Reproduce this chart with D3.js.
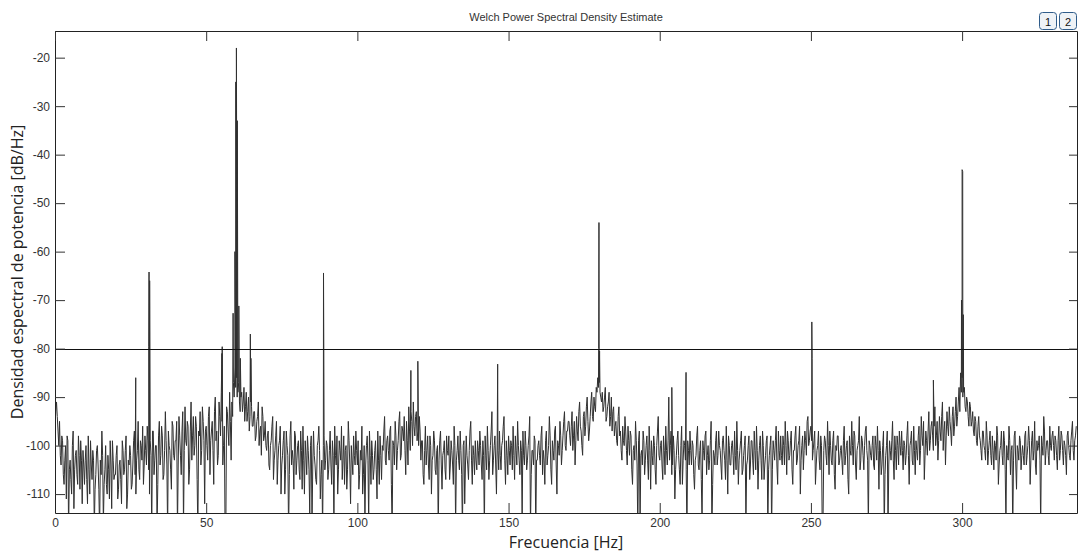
<!DOCTYPE html>
<html>
<head>
<meta charset="utf-8">
<script src="https://cdn.jsdelivr.net/npm/d3@7"></script>
<style>
  body { margin: 0; background: #fff; }
  .tick text { font-family: "Liberation Sans", Arial, sans-serif; font-size: 12px; fill: #333; }
  .axisText { font-family: "Open Sans", sans-serif; font-size: 16px; fill: #222; }
</style>
</head>
<body>
<div id="chart"></div>
<script>
// Welch PSD
var freqStep = 0.5;   // Hz between noise-floor samples
// noise floor at 0, 0.5, 1.0 ... Hz
var noiseDb = [
  -96,-91,-97,-95,-104,-99,-108,-100,-98,-118,-103,-110,-97,-105,-101,-108,-102,-99,-112,-104,
  -103,-107,-98,-110,-104,-101,-117,-106,-100,-109,-103,-97,-116,-105,-108,-102,-111,-104,-99,-107,
  -106,-100,-109,-103,-112,-101,-105,-98,-110,-104,-102,-108,-99,-106,-103,-95,-107,-100,-96,-104,
  -101,-96,-105,-99,-118,-97,-103,-100,-108,-95,-102,-98,-106,-93,-104,-97,-101,-109,-96,-103,
  -99,-118,-94,-102,-97,-117,-92,-100,-96,-105,-91,-98,-102,-94,-107,-97,-93,-101,-95,-112,
  -96,-103,-92,-99,-95,-108,-90,-97,-102,-94,-89,-104,-96,-118,-93,-100,-95,-91,-87,-84,
  -86,-89,-91,-90,-93,-88,-92,-95,-90,-94,-92,-96,-93,-98,-94,-100,-96,-92,-99,-95,
  -101,-97,-105,-99,-94,-103,-98,-108,-100,-96,-104,-99,-110,-97,-102,-106,-95,-101,-109,-98,
  -103,-99,-107,-101,-96,-110,-102,-98,-105,-100,-117,-97,-104,-108,-99,-101,-106,-118,-98,-103,
  -100,-105,-97,-108,-102,-96,-104,-110,-99,-103,-107,-98,-101,-109,-95,-104,-100,-106,-102,-97,
  -104,-109,-101,-96,-106,-116,-100,-103,-97,-108,-102,-105,-99,-111,-103,-98,-107,-101,-94,-104,
  -98,-103,-96,-118,-100,-95,-105,-99,-93,-102,-97,-94,-106,-99,-92,-101,-95,-91,-98,-93,
  -97,-94,-103,-99,-108,-96,-101,-104,-98,-110,-102,-99,-106,-100,-103,-97,-109,-101,-105,-98,
  -102,-107,-99,-104,-96,-117,-101,-103,-97,-106,-100,-112,-98,-104,-101,-95,-108,-102,-99,-105,
  -101,-97,-104,-99,-118,-102,-96,-107,-100,-93,-103,-98,-110,-101,-97,-105,-99,-94,-108,-102,
  -98,-104,-100,-96,-107,-101,-95,-103,-99,-116,-102,-97,-105,-100,-94,-106,-101,-98,-118,-103,
  -99,-104,-96,-101,-108,-97,-102,-94,-105,-99,-103,-96,-110,-100,-95,-104,-98,-93,-101,-97,
  -95,-100,-93,-98,-104,-94,-99,-91,-97,-102,-93,-96,-90,-99,-94,-89,-95,-92,-88,-86,
  -87,-90,-89,-92,-88,-94,-91,-96,-90,-93,-98,-95,-100,-92,-97,-103,-99,-94,-101,-96,
  -102,-98,-108,-100,-95,-104,-99,-117,-101,-97,-106,-100,-103,-96,-109,-102,-98,-105,-100,-94,
  -103,-99,-107,-101,-96,-104,-90,-100,-106,-98,-111,-102,-97,-105,-100,-108,-99,-103,-118,-101,
  -97,-104,-100,-109,-102,-96,-105,-99,-116,-101,-98,-106,-100,-103,-95,-108,-102,-99,-104,-97,
  -101,-107,-98,-103,-96,-110,-100,-104,-99,-106,-102,-95,-108,-101,-97,-105,-100,-117,-103,-98,
  -104,-99,-106,-101,-96,-109,-100,-103,-97,-107,-102,-98,-105,-100,-118,-99,-103,-96,-108,-101,
  -98,-104,-100,-95,-106,-99,-102,-97,-108,-101,-96,-103,-99,-110,-100,-105,-97,-102,-94,-99,
  -96,-103,-99,-108,-101,-97,-105,-100,-116,-98,-102,-95,-106,-100,-104,-97,-109,-101,-98,-103,
  -100,-106,-96,-102,-99,-110,-101,-95,-104,-98,-107,-100,-94,-103,-99,-105,-97,-101,-117,-100,
  -103,-98,-105,-100,-96,-109,-101,-104,-97,-106,-100,-118,-99,-103,-95,-107,-101,-98,-104,-100,
  -97,-105,-100,-102,-95,-108,-99,-103,-96,-106,-101,-98,-104,-94,-100,-107,-97,-102,-93,-99,
  -95,-101,-92,-98,-103,-94,-99,-91,-97,-104,-93,-98,-95,-100,-92,-96,-90,-94,-88,-85,
  -86,-89,-92,-90,-94,-91,-96,-93,-98,-95,-100,-94,-99,-103,-97,-101,-95,-104,-99,-102,
  -98,-105,-100,-96,-108,-101,-97,-104,-99,-116,-102,-96,-106,-100,-103,-97,-109,-101,-98,-105,
  -100,-104,-97,-102,-96,-108,-99,-103,-95,-106,-101,-98,-117,-100,-94,-104,-99,-102,-96,-101,
  -97,-103,-99,-105,-96,-101,-98,-104,-100,-106,-97,-102,-99,-95,-103,-98
];
// noise floor at 0.25, 0.75, 1.25 ... Hz
var noiseDbMid = [
  -93,-94,-100,-102,-98,-106,-103,-111,-99,-105,-107,-100,-113,-102,-106,-98,-109,-103,-101,-108,
  -100,-112,-105,-99,-107,-103,-109,-101,-104,-118,-106,-102,-108,-100,-110,-105,-99,-113,-103,-106,
  -102,-111,-104,-107,-99,-106,-101,-113,-103,-100,-109,-104,-97,-110,-101,-105,-99,-103,-108,-98,
  -104,-99,-110,-102,-97,-106,-100,-117,-98,-104,-96,-107,-101,-99,-118,-100,-105,-95,-102,-99,
  -95,-104,-98,-106,-93,-101,-99,-95,-108,-97,-103,-94,-100,-96,-118,-98,-104,-92,-99,-97,
  -100,-94,-106,-97,-101,-93,-99,-104,-91,-98,-95,-100,-118,-92,-97,-89,-103,-94,-90,-88,
  -90,-87,-93,-89,-91,-95,-89,-93,-97,-91,-96,-93,-99,-95,-91,-97,-102,-94,-98,-100,
  -98,-104,-100,-96,-107,-101,-95,-103,-99,-110,-102,-97,-105,-100,-118,-98,-104,-103,-97,-106,
  -100,-105,-97,-109,-103,-99,-106,-101,-114,-98,-104,-102,-107,-100,-96,-111,-103,-100,-105,-99,
  -107,-101,-104,-99,-117,-102,-98,-105,-101,-96,-103,-108,-100,-105,-99,-112,-103,-98,-104,-101,
  -99,-106,-103,-110,-100,-104,-98,-116,-102,-99,-107,-101,-105,-97,-108,-102,-100,-97,-103,-99,
  -101,-97,-108,-99,-104,-98,-101,-95,-103,-96,-99,-101,-95,-104,-97,-93,-100,-96,-94,-99,
  -100,-97,-99,-106,-101,-104,-98,-107,-100,-103,-97,-105,-101,-118,-99,-104,-102,-99,-107,-101,
  -98,-104,-101,-108,-100,-103,-98,-105,-101,-118,-99,-104,-102,-107,-97,-103,-100,-106,-103,-99,
  -104,-100,-107,-102,-98,-105,-101,-103,-97,-106,-100,-104,-99,-105,-102,-100,-96,-103,-99,-106,
  -101,-99,-105,-102,-98,-104,-100,-106,-101,-97,-104,-100,-103,-98,-117,-101,-104,-99,-103,-100,
  -102,-98,-106,-103,-99,-104,-100,-98,-108,-101,-97,-104,-99,-102,-98,-101,-95,-100,-97,-95,
  -98,-96,-101,-95,-99,-97,-93,-96,-100,-94,-98,-92,-95,-97,-91,-94,-90,-93,-89,-88,
  -89,-91,-93,-90,-95,-92,-89,-94,-97,-92,-96,-99,-94,-98,-101,-96,-100,-97,-104,-99,
  -97,-105,-101,-103,-99,-118,-97,-102,-104,-99,-103,-98,-107,-101,-99,-104,-100,-108,-97,-102,
  -100,-104,-98,-106,-101,-99,-103,-97,-104,-101,-105,-99,-102,-108,-96,-103,-100,-105,-99,-104,
  -101,-99,-106,-103,-98,-104,-101,-107,-99,-103,-97,-102,-105,-99,-118,-101,-104,-97,-102,-100,
  -104,-99,-101,-107,-103,-98,-104,-100,-102,-97,-105,-101,-103,-99,-106,-102,-98,-104,-100,-107,
  -99,-103,-97,-105,-101,-103,-98,-107,-100,-104,-99,-118,-102,-98,-105,-101,-99,-104,-97,-103,
  -102,-98,-104,-100,-97,-103,-99,-105,-101,-98,-104,-100,-96,-103,-98,-101,-99,-95,-100,-97,
  -99,-101,-97,-104,-100,-103,-98,-118,-101,-99,-104,-100,-97,-103,-99,-106,-100,-98,-104,-101,
  -103,-99,-104,-100,-107,-98,-102,-100,-97,-104,-101,-99,-105,-98,-102,-100,-96,-103,-99,-102,
  -100,-104,-98,-103,-101,-99,-106,-100,-118,-102,-97,-104,-101,-99,-103,-98,-105,-100,-97,-102,
  -101,-99,-104,-98,-102,-100,-97,-104,-101,-99,-103,-96,-101,-98,-95,-102,-99,-97,-101,-96,
  -98,-96,-100,-95,-99,-97,-94,-101,-95,-98,-96,-92,-97,-94,-98,-93,-96,-91,-93,-89,
  -90,-88,-93,-91,-96,-92,-95,-97,-94,-99,-96,-98,-101,-97,-100,-103,-98,-101,-97,-104,
  -101,-99,-103,-98,-104,-100,-102,-97,-105,-100,-103,-99,-101,-118,-98,-104,-100,-103,-99,-102,
  -102,-98,-104,-100,-99,-103,-97,-101,-104,-99,-100,-103,-98,-102,-97,-101,-99,-104,-100,-98,
  -100,-98,-102,-99,-103,-97,-101,-99,-102,-98,-100,-103,-97,-101,-99,-96
];

// narrow harmonic lines (Hz, dB/Hz)
var peakFreqs = [26.7, 31.0, 31.1, 31.3, 55.2, 55.3, 58.9, 59.5, 59.8, 60.0, 60.3, 60.8, 61.3,
  64.6, 64.8, 88.8, 88.9, 117.7, 120.0, 146.4, 179.8, 179.9, 180.1, 204.0, 208.7,
  250.3, 250.4, 290.5, 299.8, 300.0, 300.2, 300.4];
var peakDb = [-86, -79.5, -64.2, -66, -81, -79.6, -72.7, -60, -25, -18, -33, -71.2, -82,
  -77, -82, -64.4, -80, -84.5, -82.6, -83.2, -80, -54, -80.5, -88, -84.9,
  -74.5, -82, -86.5, -70, -43.1, -43.5, -73];

var xTicks = [0, 50, 100, 150, 200, 250, 300];
var yTicks = [-20, -30, -40, -50, -60, -70, -80, -90, -100, -110];
var refLevel = -80;

var svgWidth = 1078;
var svgHeight = 553;
var margin = { top: 31, right: 1, bottom: 40, left: 55 };
var width = svgWidth - margin.left - margin.right;
var height = svgHeight - margin.top - margin.bottom;

var svg = d3.select("#chart")
  .append("svg")
  .attr("width", svgWidth)
  .attr("height", svgHeight);

var chartGroup = svg.append("g")
  .attr("transform", `translate(${margin.left}, ${margin.top})`);

// build the series: both noise grids + peaks, sorted by frequency
var series = noiseDb.map((v, i) => ({ f: i * freqStep, db: v }));
noiseDbMid.forEach((v, i) => series.push({ f: i * freqStep + freqStep / 2, db: v }));
peakFreqs.forEach((f, i) => series.push({ f: f, db: peakDb[i] }));
series.sort((a, b) => a.f - b.f);

var xScale = d3.scaleLinear().domain([0, 338]).range([0, width]);
var yScale = d3.scaleLinear().domain([-113.9, -14.5]).range([height, 0]);

chartGroup.append("clipPath").attr("id", "clip")
  .append("rect").attr("width", width).attr("height", height);

var line = d3.line()
  .x(d => xScale(d.f))
  .y(d => yScale(d.db));

chartGroup.append("path")
  .datum(series)
  .attr("clip-path", "url(#clip)")
  .attr("fill", "none")
  .attr("stroke", "#303030")
  .attr("stroke-width", 1)
  .attr("d", line);

// reference line at -80
chartGroup.append("line")
  .attr("x1", 0).attr("x2", width)
  .attr("y1", Math.round(yScale(refLevel)) + 0.5)
  .attr("y2", Math.round(yScale(refLevel)) + 0.5)
  .attr("stroke", "#111");

// axes, matlab style: ticks inside on all four sides
var fmt = d => String(d);
var bottomAxis = d3.axisBottom(xScale).tickValues(xTicks).tickFormat(fmt).tickSizeInner(-10).tickSizeOuter(0).tickPadding(5);
var leftAxis = d3.axisLeft(yScale).tickValues(yTicks).tickFormat(fmt).tickSizeInner(-10).tickSizeOuter(0).tickPadding(5);
var topAxis = d3.axisTop(xScale).tickValues(xTicks).tickSizeInner(-10).tickSizeOuter(0).tickFormat("");
var rightAxis = d3.axisRight(yScale).tickValues(yTicks).tickSizeInner(-8).tickSizeOuter(0).tickFormat("");

chartGroup.append("g").attr("transform", `translate(0, ${height})`).call(bottomAxis);
chartGroup.append("g").call(leftAxis);
chartGroup.append("g").call(topAxis);
chartGroup.append("g").attr("transform", `translate(${width}, 0)`).call(rightAxis);

chartGroup.selectAll(".domain").attr("stroke", "#222");
chartGroup.selectAll(".tick line").attr("stroke", "#333");

// labels
svg.append("text")
  .attr("x", margin.left + width / 2)
  .attr("y", 21)
  .attr("text-anchor", "middle")
  .style("font-family", "Liberation Sans, Arial, sans-serif")
  .style("font-size", "11px")
  .style("fill", "#333")
  .text("Welch Power Spectral Density Estimate");

svg.append("text")
  .attr("class", "axisText")
  .attr("x", margin.left + width / 2)
  .attr("y", 548)
  .attr("text-anchor", "middle")
  .text("Frecuencia [Hz]");

svg.append("text")
  .attr("class", "axisText")
  .attr("transform", "rotate(-90)")
  .attr("x", -(margin.top + height / 2))
  .attr("y", 23)
  .attr("text-anchor", "middle")
  .text("Densidad espectral de potencia [dB/Hz]");

// little figure buttons top right
var buttons = ["1", "2"];
var btn = svg.selectAll(".btn").data(buttons).enter().append("g")
  .attr("transform", (d, i) => `translate(${1039.5 + i * 20}, 12.5)`);
btn.append("rect")
  .attr("width", 17).attr("height", 17).attr("rx", 3)
  .attr("fill", "#eef2f6").attr("stroke", "#2f5c8a");
btn.append("text")
  .attr("x", 8.5).attr("y", 13)
  .attr("text-anchor", "middle")
  .style("font-family", "Liberation Sans, Arial, sans-serif")
  .style("font-size", "11px")
  .style("fill", "#111")
  .text(d => d);
</script>
</body>
</html>
